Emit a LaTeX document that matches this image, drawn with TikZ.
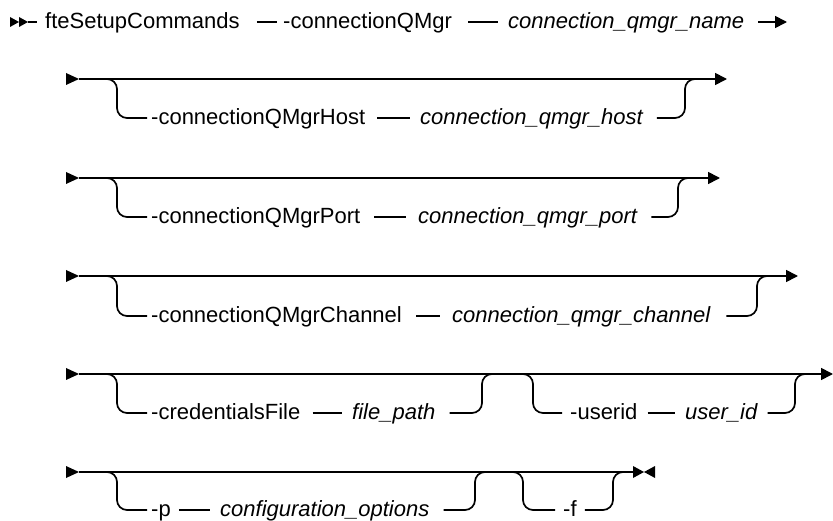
\documentclass[tikz,border=0pt]{standalone}
\usepackage{fontspec}
\setmainfont{Liberation Sans}
\usetikzlibrary{arrows.meta}
\begin{document}
\begin{tikzpicture}[x=1pt,y=-1pt,
  line/.style={line width=1.7pt},
  kw/.style={anchor=west,inner sep=0pt,text height=13pt,text depth=0pt,font=\fontsize{22}{26}\selectfont},
  var/.style={kw,font=\fontsize{22}{26}\selectfont\itshape},
  tip/.style={-{Triangle[length=12pt,width=12pt]}},
  rc/.style={rounded corners=10pt},
]
\useasboundingbox (0,0) rectangle (833,521);

% ---------- row 1
\coordinate (s1) at (28,22);
\fill (10,17) -- (19,22) -- (10,27) -- cycle;
\fill (19,17) -- (28,22) -- (19,27) -- cycle;
\node[kw] (cmd) at (45,22) {fteSetupCommands};
\node[kw] (qm) at (283,22) {-connectionQMgr};
\node[var] (qmn) at (508,22) {connection\_qmgr\_name};
\coordinate (e1) at (787,22);
\draw[line] (s1) -- ([xshift=-8]cmd.west);
\draw[line] ([xshift=17]cmd.east) -- ([xshift=-6]qm.west);
\draw[line] ([xshift=16]qm.east) -- ([xshift=-10]qmn.west);
\draw[line,tip] ([xshift=14]qmn.east) -- (e1);

% ---------- row 2
\coordinate (a2) at (79,79);
\coordinate (b2) at (117,118);
\coordinate (j2) at (685,79);
\coordinate (e2) at (727,79);
\fill (a2) -- ++(-13,-6) -- ++(0,12) -- cycle;
\node[kw] (host) at (151,118) {-connectionQMgrHost};
\node[var] (hostv) at (420,118) {connection\_qmgr\_host};
\draw[line,tip] (a2) -- (e2);
\draw[line,rc] (a2) -| (b2) -- ([xshift=-4]host.west);
\draw[line] ([xshift=12]host.east) -- ([xshift=-10]hostv.west);
\draw[line,rc] ([xshift=14]hostv.east) -| (j2) -- ([xshift=12]j2);

% ---------- row 3
\coordinate (a3) at (79,178);
\coordinate (b3) at (117,217);
\coordinate (j3) at (678,178);
\coordinate (e3) at (720,178);
\fill (a3) -- ++(-13,-6) -- ++(0,12) -- cycle;
\node[kw] (port) at (151,217) {-connectionQMgrPort};
\node[var] (portv) at (418,217) {connection\_qmgr\_port};
\draw[line,tip] (a3) -- (e3);
\draw[line,rc] (a3) -| (b3) -- ([xshift=-4]port.west);
\draw[line] ([xshift=14]port.east) -- ([xshift=-12]portv.west);
\draw[line,rc] ([xshift=14]portv.east) -| (j3) -- ([xshift=12]j3);

% ---------- row 4
\coordinate (a4) at (79,276);
\coordinate (b4) at (117,316);
\coordinate (j4) at (757,276);
\coordinate (e4) at (798,276);
\fill (a4) -- ++(-13,-6) -- ++(0,12) -- cycle;
\node[kw] (chan) at (151,316) {-connectionQMgrChannel};
\node[var] (chanv) at (452,316) {connection\_qmgr\_channel};
\draw[line,tip] (a4) -- (e4);
\draw[line,rc] (a4) -| (b4) -- ([xshift=-4]chan.west);
\draw[line] ([xshift=14]chan.east) -- ([xshift=-12]chanv.west);
\draw[line,rc] ([xshift=16]chanv.east) -| (j4) -- ([xshift=12]j4);

% ---------- row 5
\coordinate (a5) at (79,374);
\coordinate (b5) at (117,413);
\coordinate (j5) at (482,374);
\coordinate (s5) at (523,374);
\coordinate (c5) at (533,413);
\coordinate (k5) at (795,374);
\coordinate (e5) at (833,374);
\fill (a5) -- ++(-13,-6) -- ++(0,12) -- cycle;
\node[kw] (cred) at (151,413) {-credentialsFile};
\node[var] (fp) at (352,413) {file\_path};
\node[kw] (uid) at (570,413) {-userid};
\node[var] (uidv) at (685,413) {user\_id};
\draw[line,tip] (a5) -- (e5);
\draw[line,rc] (a5) -| (b5) -- ([xshift=-4]cred.west);
\draw[line] ([xshift=12]cred.east) -- ([xshift=-10]fp.west);
\draw[line,rc] ([xshift=14]fp.east) -| (j5) -- ([xshift=12]j5);
\draw[line,rc] (s5) -| (c5) -- ([xshift=-8]uid.west);
\draw[line] ([xshift=10]uid.east) -- ([xshift=-10]uidv.west);
\draw[line,rc] ([xshift=10]uidv.east) -| (k5) -- ([xshift=12]k5);

% ---------- row 6
\coordinate (a6) at (79,472);
\coordinate (b6) at (117,510);
\coordinate (j6) at (475,472);
\coordinate (s6) at (513,472);
\coordinate (c6) at (523,510);
\coordinate (k6) at (613,472);
\coordinate (e6) at (633,472);
\fill (a6) -- ++(-13,-6) -- ++(0,12) -- cycle;
\node[kw] (p) at (151,510) {-p};
\node[var] (opts) at (220,510) {configuration\_options};
\node[kw] (f) at (563,510) {-f};
\draw[line] (a6) -- (e6);
\draw[line,rc] (a6) -| (b6) -- ([xshift=-4]p.west);
\draw[line] ([xshift=8]p.east) -- ([xshift=-10]opts.west);
\draw[line,rc] ([xshift=14]opts.east) -| (j6) -- ([xshift=12]j6);
\draw[line,rc] (s6) -| (c6) -- ([xshift=-8]f.west);
\draw[line,rc] ([xshift=8]f.east) -| (k6) -- ([xshift=12]k6);
\fill (e6) ++(0,-6) -- ++(11,6) -- ++(-11,6) -- cycle;
\fill ([xshift=22]e6) ++(0,-6) -- ++(-11,6) -- ++(11,6) -- cycle;
\end{tikzpicture}
\end{document}
